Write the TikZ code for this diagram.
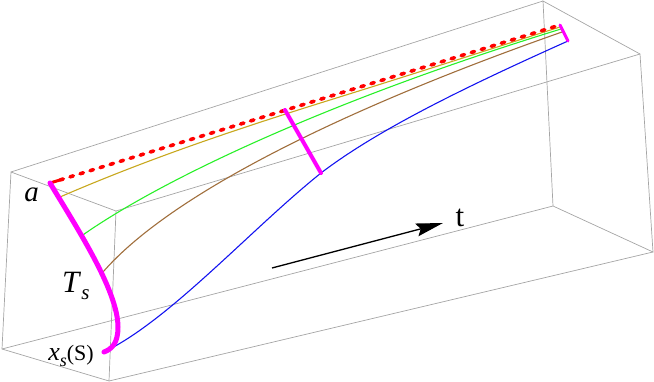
\documentclass[tikz,border=0pt]{standalone}
\usepackage{fontspec}
\setmainfont{Liberation Serif}
\usetikzlibrary{arrows.meta}
\definecolor{boxgray}{RGB}{165,165,165}
\definecolor{olivec}{RGB}{200,168,30}
\definecolor{greenc}{RGB}{40,240,40}
\definecolor{brownc}{RGB}{160,110,60}
\definecolor{bluec}{RGB}{20,20,240}
\definecolor{magc}{RGB}{255,0,255}
\definecolor{redc}{RGB}{255,0,0}
\begin{document}
\begin{tikzpicture}[x=1pt,y=-1pt,
  boxedge/.style={draw=boxgray,line width=0.7pt},
  traj/.style={line width=1.1pt},
  magline/.style={draw=magc,line cap=round},
  lbl/.style={inner sep=0pt,text=black}]
\useasboundingbox (0,0) rectangle (654,382);
% box vertices
\coordinate (A) at (11,172);
\coordinate (B) at (116,211);
\coordinate (C) at (109,381);
\coordinate (D) at (2,349);
\coordinate (E) at (543,1);
\coordinate (F) at (640,54);
\coordinate (G) at (653,252);
\coordinate (H) at (553,206);
\draw[boxedge] (A) -- (B) -- (C) -- (D) -- cycle;
\draw[boxedge] (E) -- (F) -- (G) -- (H) -- cycle;
\draw[boxedge] (A) -- (E);
\draw[boxedge] (B) -- (F);
\draw[boxedge] (C) -- (G);
\draw[boxedge] (D) -- (H);
% key points
\coordinate (a0) at (50,183);
\coordinate (a1) at (560,25);
\coordinate (m0) at (285,110);
\coordinate (m1) at (321,173);
\coordinate (e1) at (568,41);
\coordinate (xs) at (104,352);
\coordinate (o0) at (60,197);
\coordinate (g0) at (80,237);
\coordinate (b0) at (103,272);
% trajectories
\draw[traj,olivec] (o0) .. controls (150,158) and (240,128) .. (330,100) .. controls (420,72) and (500,46) .. (560,27);
\draw[traj,greenc] (g0) .. controls (160,180) and (330,100) .. (561,29);
\draw[traj,brownc] (b0) .. controls (170,195) and (340,110) .. (562,32);
\draw[traj,bluec] (xs) .. controls (170,320) and (250,230) .. (m1) .. controls (380,128) and (470,85) .. (e1);
% red dotted
\draw[redc,line width=3pt] (a0) -- (60,180);
\draw[redc,line width=3.6pt,line cap=round,dash pattern=on 3.5pt off 7pt] (60,180) -- (a1);
% magenta
\draw[magline,line width=5pt] (a0) .. controls (75,225) and (118,290) .. (118,327) .. controls (118,343) and (112,349) .. (xs);
\draw[magline,line width=4pt] (m0) -- (m1);
\draw[magline,line width=3pt] (a1) -- (e1);
% arrow
\coordinate (t0) at (272,268);
\coordinate (t1) at (443,223);
\draw[line width=1.3pt,-{Stealth[length=27pt,width=13pt,inset=4pt]}] (t0) -- (t1);
% labels
\node[lbl,anchor=base] (la) at (31.5,202) {\fontsize{29}{29}\selectfont\textit{a}};
\node[lbl,anchor=base west] (lT) at (62,293) {\fontsize{31}{31}\selectfont\textit{T}\raisebox{-0.2em}{\fontsize{21}{21}\selectfont\textit{s}}};
\node[lbl,anchor=base east] (lx) at (94,361) {\fontsize{26}{26}\selectfont\textit{x}\raisebox{-0.2em}{\fontsize{18}{18}\selectfont\textit{s}}\fontsize{22}{22}\selectfont(S)};
\node[lbl,anchor=base] (lt) at (460,227) {\fontsize{31}{31}\selectfont t};
\end{tikzpicture}
\end{document}
